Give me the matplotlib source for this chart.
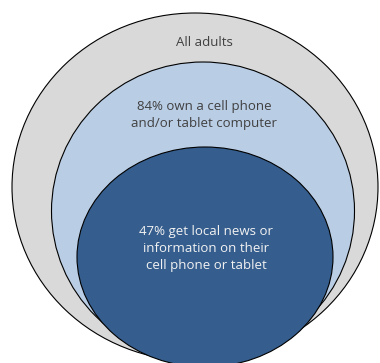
import matplotlib
matplotlib.use('Agg')
import matplotlib.pyplot as plt
from matplotlib.patches import Ellipse

# Nested groups, outermost first
labels = ["All adults",
          "84% own a cell phone\nand/or tablet computer",
          "47% get local news or\ninformation on their\ncell phone or tablet"]
shares = [100, 84, 47]
colors = ['#d9d9d9', '#b9cde5', '#355e8e']
text_colors = ['#404040', '#404040', '#f2f2f2']

# ellipse geometry (center x, center y, width, height) in pixel space
shapes = [(195, 187, 366, 348), (203, 211, 303, 298), (205, 257, 256, 220)]
label_pos = [(204, 42), (204, 115), (206, 249)]

fig = plt.figure(figsize=(3.8, 3.63), dpi=100)
ax = fig.add_axes([0, 0, 1, 1])
ax.set_xlim(0, 380)
ax.set_ylim(363, 0)
ax.axis('off')

for (cx, cy, w, h), c in zip(shapes, colors):
    ax.add_patch(Ellipse((cx, cy), w, h, facecolor=c, edgecolor='black', linewidth=0.8))

for lab, (x, y), tc in zip(labels, label_pos, text_colors):
    ax.text(x, y, lab, ha='center', va='center', color=tc, fontsize=9.5,
            family='Open Sans', linespacing=1.4)

fig.savefig('out.png', dpi=100)
